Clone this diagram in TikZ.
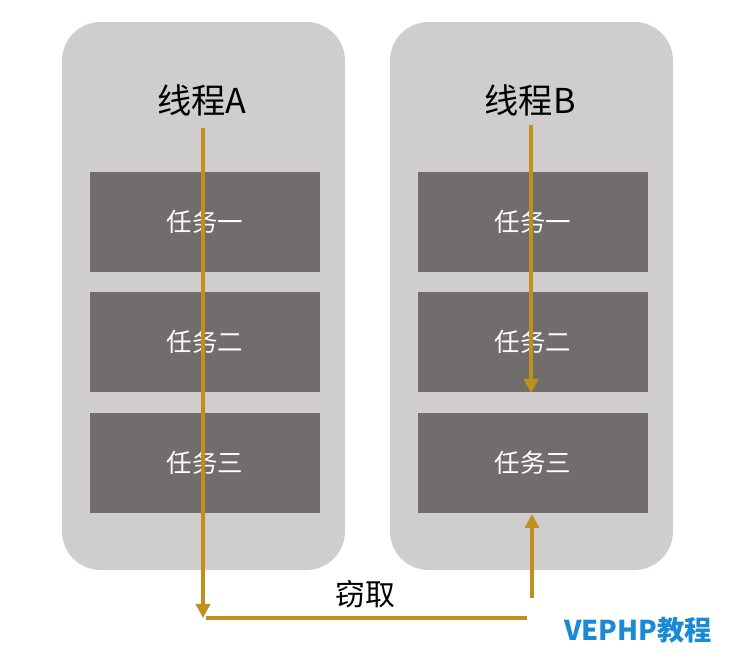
\documentclass[tikz,border=0pt]{standalone}
\usepackage{fontspec}
\setmainfont{Noto Sans CJK SC}
\usetikzlibrary{arrows.meta}
\definecolor{panelgray}{HTML}{CFCDCE}
\definecolor{taskgray}{HTML}{716D6C}
\definecolor{gold}{HTML}{C0901F}
\definecolor{markblue}{HTML}{1A8AD4}
\tikzset{
  panel/.style={fill=panelgray,rounded corners=22pt},
  taskbox/.style={fill=taskgray,text=white,minimum width=4.6cm,minimum height=2cm,inner sep=0pt,font=\fontsize{14.5}{17}\selectfont},
  flow/.style={draw=gold,line width=2.2pt,-{Triangle[length=8pt,width=8pt]}}
}
\begin{document}
\begin{tikzpicture}[x=0.02cm,y=-0.02cm]
\useasboundingbox (0,0) rectangle (750,659);
\fill[panel] (62,22) rectangle (345,570);
\fill[panel] (390,22) rectangle (673,570);

\node (tA) at (202,100) {\fontsize{19.5}{22}\selectfont 线程A};
\node (tB) at (530,100) {\fontsize{19.5}{22}\selectfont 线程B};

\node[taskbox] (a1) at (205,222) {任务一};
\node[taskbox] (a2) at (205,342) {任务二};
\node[taskbox] (a3) at (205,463) {任务三};
\node[taskbox] (b1) at (533,222) {任务一};
\node[taskbox] (b2) at (533,342) {任务二};
\node[taskbox] (b3) at (533,463) {任务三};

\coordinate (aTop) at (203,128);
\coordinate (aEnd) at (203,618);
\coordinate (hL) at (206,618);
\coordinate (hR) at (527,618);
\coordinate (bTop) at (531,125);
\coordinate (bEnd) at (531,393);
\coordinate (sFrom) at (532,598);
\coordinate (sTo) at (532,514);

\draw[flow] (aTop) -- (aEnd);
\draw[draw=gold,line width=2.2pt] (hL) -- (hR);
\draw[flow] (bTop) -- (bEnd);
\draw[flow] (sFrom) -- (sTo);

\node (steal) at (365,594) {\fontsize{17}{20}\selectfont 窃取};
\node[text=markblue,font=\bfseries\fontsize{15.5}{18}\selectfont] (mark) at (638,630) {VEPHP教程};
\end{tikzpicture}
\end{document}
